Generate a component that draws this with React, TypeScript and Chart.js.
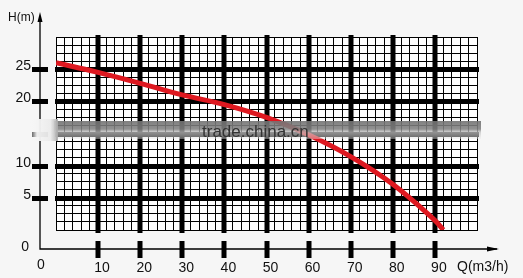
import React, { useEffect, useRef } from "react";
import { Chart, registerables } from "chart.js";
Chart.register(...registerables);

// Pump curve: flow Q (m3/h) vs head H (m)
const flowQ = [0, 10, 20, 30, 40, 50, 60, 70, 80, 90, 92];
const headH = [26, 24.5, 22.8, 21, 19.5, 17.5, 14.8, 11.4, 7.1, 1.5, 0];

const xTickValues = [10, 20, 30, 40, 50, 60, 70, 80, 90];
const xTickLabels = ["10", "20", "30", "40", "50", "60", "70", "80", "90"];
const yTickValues = [5, 10, 15, 20, 25];
const yLabelValues = [5, 10, 20, 25];
const yLabelTexts = ["5", "10", "20", "25"];
const originLabel = "0";
const xAxisTitle = "Q(m3/h)";
const yAxisTitle = "H(m)";
const watermark = "trade.china.cn";

const FONT = "'Liberation Sans', Arial, sans-serif";

const decorPlugin = {
  id: "decor",
  beforeDraw(chart: any) {
    const { ctx, chartArea: a } = chart;
    ctx.save();
    ctx.fillStyle = "#f6f6f6";
    ctx.fillRect(0, 0, chart.width, chart.height);
    ctx.fillStyle = "#ffffff";
    ctx.fillRect(a.left, a.top, a.right - a.left, a.bottom - a.top);
    ctx.restore();
  },
  beforeDatasetsDraw(chart: any) {
    const { ctx, chartArea: a, scales } = chart;
    const xs = scales.x;
    const ys = scales.y;
    ctx.save();
    ctx.fillStyle = "#000";
    xTickValues.forEach((v) => {
      const px = Math.round(xs.getPixelForValue(v));
      ctx.fillRect(px - 2.5, a.top - 2, 5, a.bottom - a.top + 5);
    });
    yTickValues.forEach((v) => {
      const py = Math.round(ys.getPixelForValue(v));
      ctx.fillRect(a.left - 1, py - 2, a.right - a.left + 3, 5);
    });
    ctx.restore();
  },
  afterDraw(chart: any) {
    const { ctx, chartArea: a, scales } = chart;
    const xs = scales.x;
    const ys = scales.y;
    const ox = a.left - 16;
    const oy = a.bottom + 19;
    ctx.save();
    ctx.strokeStyle = "#000";
    ctx.fillStyle = "#000";
    ctx.lineWidth = 1.3;
    ctx.beginPath();
    ctx.moveTo(ox, 16);
    ctx.lineTo(ox, oy);
    ctx.lineTo(497, oy);
    ctx.stroke();
    ctx.beginPath();
    ctx.moveTo(ox, 12);
    ctx.lineTo(ox - 2.5, 22);
    ctx.lineTo(ox + 2.5, 22);
    ctx.closePath();
    ctx.fill();
    ctx.beginPath();
    ctx.moveTo(499, oy);
    ctx.lineTo(487, oy - 2.5);
    ctx.lineTo(487, oy + 2.5);
    ctx.closePath();
    ctx.fill();
    xTickValues.forEach((v) => {
      const px = Math.round(xs.getPixelForValue(v));
      ctx.fillRect(px - 2.5, oy - 8, 5, 17);
    });
    yTickValues.forEach((v) => {
      const py = Math.round(ys.getPixelForValue(v));
      ctx.fillRect(ox - 8, py - 2, 16, 5);
    });
    ctx.fillStyle = "#111";
    ctx.font = `14px ${FONT}`;
    ctx.textBaseline = "alphabetic";
    ctx.textAlign = "center";
    xTickValues.forEach((v, i) => {
      const px = xs.getPixelForValue(v);
      ctx.fillText(xTickLabels[i], px + 4, oy + 23);
    });
    ctx.fillText(originLabel, ox + 1, oy + 20);
    ctx.textAlign = "right";
    ctx.textBaseline = "middle";
    yLabelValues.forEach((v, i) => {
      const py = ys.getPixelForValue(v);
      ctx.fillText(yLabelTexts[i], ox - 9, py - 3);
    });
    ctx.fillText(originLabel, ox - 11, oy - 2);
    ctx.textAlign = "left";
    ctx.textBaseline = "alphabetic";
    ctx.fillText(xAxisTitle, 457, oy + 22);
    ctx.font = `12px ${FONT}`;
    ctx.fillText(yAxisTitle, 8, 21);

    // watermark band
    const bTop = 121;
    const bBot = 139;
    const g = ctx.createLinearGradient(0, bTop, 0, bBot);
    g.addColorStop(0, "rgba(115,115,115,0.9)");
    g.addColorStop(0.45, "rgba(130,130,130,0.88)");
    g.addColorStop(0.62, "rgba(195,195,195,0.75)");
    g.addColorStop(1, "rgba(235,235,235,0.4)");
    ctx.fillStyle = g;
    ctx.fillRect(a.left - 2, bTop, a.right - a.left + 6, bBot - bTop);
    const g2 = ctx.createLinearGradient(28, 0, a.left + 2, 0);
    g2.addColorStop(0, "rgba(246,246,246,0)");
    g2.addColorStop(0.3, "rgba(244,244,244,0.97)");
    g2.addColorStop(0.75, "rgba(235,235,235,0.95)");
    g2.addColorStop(1, "rgba(170,170,170,0.9)");
    ctx.fillStyle = g2;
    ctx.fillRect(28, bTop - 2, a.left - 26, bBot - bTop + 4);
    ctx.fillStyle = "#333";
    ctx.font = `17px ${FONT}`;
    ctx.textBaseline = "middle";
    ctx.fillText(watermark, 202, 132);
    ctx.restore();
  },
};

export default function App() {
  const ref = useRef<HTMLCanvasElement | null>(null);
  useEffect(() => {
    if (!ref.current) return;
    const chart = new Chart(ref.current, {
      type: "line",
      data: {
        datasets: [
          {
            data: flowQ.map((q, i) => ({ x: q, y: headH[i] })),
            borderColor: "rgb(222,24,32)",
            borderWidth: 5,
            pointRadius: 0,
            tension: 0.4,
            fill: false,
          },
        ],
      },
      options: {
        animation: false,
        responsive: false,
        devicePixelRatio: 1,
        layout: { padding: { left: 56, top: 37, right: 46, bottom: 48 } },
        plugins: { legend: { display: false }, tooltip: { enabled: false } },
        scales: {
          x: {
            type: "linear",
            min: 0,
            max: 100,
            ticks: { display: false, stepSize: 2, maxTicksLimit: 200 },
            grid: { color: "#000", lineWidth: 1, drawTicks: false },
            border: { display: true, color: "#000", width: 1 },
          },
          y: {
            type: "linear",
            min: 0,
            max: 30,
            ticks: { display: false, stepSize: 1.25, maxTicksLimit: 200 },
            grid: { color: "#000", lineWidth: 1, drawTicks: false },
            border: { display: true, color: "#000", width: 1 },
          },
        },
      },
      plugins: [decorPlugin],
    } as any);
    return () => chart.destroy();
  }, []);
  return (
    <div style={{ position: "absolute", left: 0, top: 0, width: 523, height: 278 }}>
      <canvas ref={ref} width={523} height={278} style={{ display: "block" }} />
    </div>
  );
}
